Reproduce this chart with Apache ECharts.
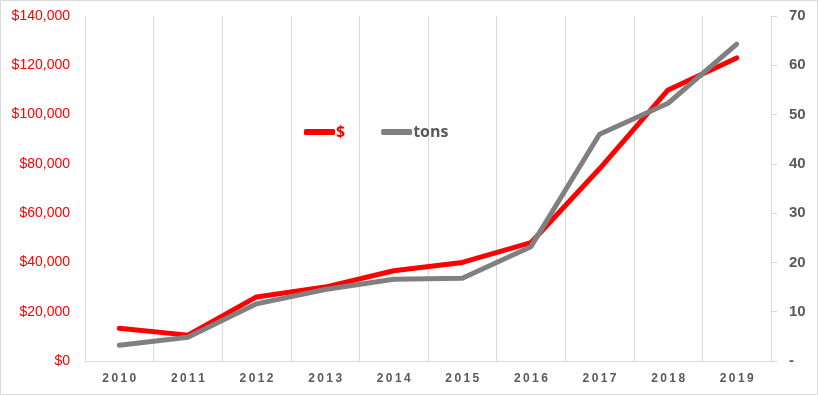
<!DOCTYPE html>
<html><head><meta charset="utf-8">
<script src="https://cdn.jsdelivr.net/npm/echarts@6/dist/echarts.min.js"></script>
<style>html,body{margin:0;padding:0;background:#fff}#c{width:818px;height:395px}</style>
</head><body><div id="c"></div>
<script>
const years = ['2010','2011','2012','2013','2014','2015','2016','2017','2018','2019'];
const dollars = [13300, 10500, 26000, 30000, 36600, 40000, 48000, 78000, 110000, 123000];
const tons = [3.2, 4.8, 11.6, 14.5, 16.6, 16.8, 23.2, 46, 52.3, 64.3];
const leftTicks = [0, 20000, 40000, 60000, 80000, 100000, 120000, 140000];
const rightTicks = [0, 10, 20, 30, 40, 50, 60, 70];

const chart = echarts.init(document.getElementById('c'));
const grid = '#d9d9d9';
chart.setOption({
  animation: false,
  graphic: [{type:'rect', shape:{x:0.5,y:0.5,width:817,height:394}, style:{fill:'none', stroke:grid, lineWidth:1}}],
  legend: {
    left: 299, top: 119, itemWidth: 31, itemHeight: 6, itemGap: 36,
    icon: 'roundRect',
    textStyle: {fontFamily: 'Open Sans', fontSize: 16, fontWeight: 'bold', padding: [0, 0, 0, -4]},
    data: [
      {name: '$', textStyle: {color: '#ff0000', fontFamily: 'Open Sans', fontSize: 16, fontWeight: 'bold', padding: [0, 0, 0, -4]}},
      {name: 'tons', textStyle: {color: '#595959', fontFamily: 'Open Sans', fontSize: 16, fontWeight: 'bold', padding: [0, 0, 0, -4]}}
    ]
  },
  grid: {left: 85, right: 47, top: 16, bottom: 34},
  xAxis: {
    type: 'category', data: years, boundaryGap: true,
    axisLine: {show: true, lineStyle: {color: grid, width: 1}},
    axisTick: {show: false},
    splitLine: {show: true, lineStyle: {color: grid, width: 1}},
    axisLabel: {color: '#595959', fontFamily: 'Liberation Sans', fontWeight: 'bold', fontSize: 12, margin: 12,
      formatter: v => v.split('').join('\u2009')}
  },
  yAxis: [{
    type: 'value', min: 0, max: 140000, interval: 20000, position: 'left',
    axisLine: {show: false}, axisTick: {show: false}, splitLine: {show: false},
    axisLabel: {color: '#ff0000', fontFamily: 'Liberation Sans', fontSize: 14, margin: 15,
      formatter: v => '$' + v.toLocaleString('en-US')}
  }, {
    type: 'value', min: 0, max: 70, interval: 10, position: 'right',
    axisLine: {show: true, lineStyle: {color: grid}},
    axisTick: {show: true, length: 6, lineStyle: {color: grid}},
    splitLine: {show: false},
    axisLabel: {color: '#595959', fontFamily: 'Liberation Sans', fontWeight: 'bold', fontSize: 15, margin: 18,
      formatter: v => v === 0 ? '-' : String(v)}
  }],
  series: [{
    name: '$', type: 'line', data: dollars, yAxisIndex: 0, symbol: 'none',
    lineStyle: {color: '#ff0000', width: 5, cap: 'round', join: 'round'}, itemStyle: {color: '#ff0000'}
  }, {
    name: 'tons', type: 'line', data: tons, yAxisIndex: 1, symbol: 'none',
    lineStyle: {color: '#808080', width: 5, cap: 'round', join: 'round'}, itemStyle: {color: '#808080'}
  }]
});
</script></body></html>
